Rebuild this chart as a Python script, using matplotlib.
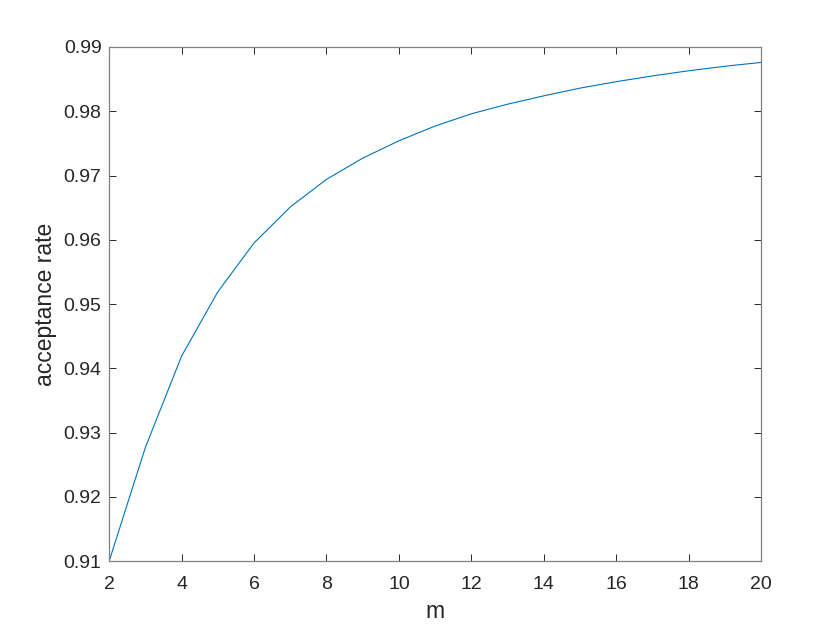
import matplotlib
matplotlib.use("Agg")
import matplotlib.pyplot as plt

m = [2, 3, 4, 5, 6, 7, 8, 9, 10, 11, 12, 13, 14, 15, 16, 17, 18, 19, 20]
rate = [0.9100, 0.9277, 0.9419, 0.9519, 0.9595, 0.9651, 0.9694, 0.9727, 0.9754,
        0.9777, 0.9796, 0.9811, 0.9824, 0.9836, 0.9846, 0.9855, 0.9863, 0.9870, 0.9876]
xticks = [2, 4, 6, 8, 10, 12, 14, 16, 18, 20]
yticks = [0.91, 0.92, 0.93, 0.94, 0.95, 0.96, 0.97, 0.98, 0.99]

plt.rcParams['font.family'] = ['Liberation Sans', 'DejaVu Sans']
fig = plt.figure(figsize=(8.4, 6.3), dpi=100)
ax = fig.add_axes([0.13, 0.1095, 0.776, 0.8159])
ax.plot(m, rate, color='#0072BD', linewidth=0.8)
ax.set_xlim(2, 20)
ax.set_ylim(0.91, 0.99)
ax.set_xticks(xticks)
ax.set_yticks(yticks)
ax.set_yticklabels([f"{v:.2f}" for v in yticks])
ax.tick_params(direction='in', top=True, right=True, length=5, width=0.7,
               labelsize=14, colors='#262626')
ax.tick_params(axis='x', pad=10.5)
ax.tick_params(axis='y', pad=5.5)
for s in ax.spines.values():
    s.set_color('#808080')
    s.set_linewidth(0.9)
ax.set_xlabel('m', fontsize=16.5, color='#262626', labelpad=5.5)
ax.set_ylabel('acceptance rate', fontsize=16.5, color='#262626', labelpad=5)
fig.savefig('out.png', dpi=100)
